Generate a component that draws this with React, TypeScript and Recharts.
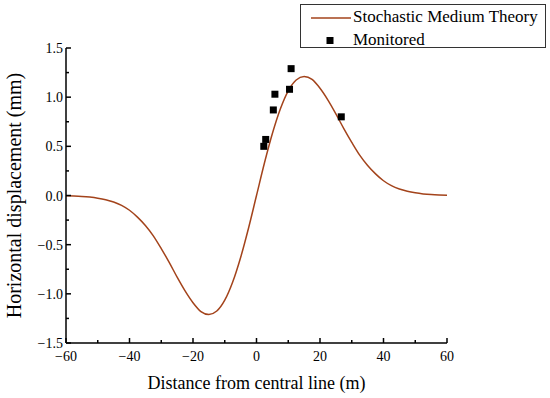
import React from 'react';
import { ComposedChart, Line, Scatter, XAxis, YAxis, Legend } from 'recharts';

const curveX = [-60, -57.5, -55, -52.5, -50, -47.5, -45, -42.5, -40, -37.5, -35, -32.5, -30, -27.5, -25, -22.5, -20, -17.5, -15, -12.5, -10, -7.5, -5, -2.5, 0, 2.5, 5, 7.5, 10, 12.5, 15, 17.5, 20, 22.5, 25, 27.5, 30, 32.5, 35, 37.5, 40, 42.5, 45, 47.5, 50, 52.5, 55, 57.5, 60];
const curveY = [-0.003, -0.005, -0.009, -0.016, -0.027, -0.043, -0.066, -0.1, -0.15, -0.22, -0.305, -0.41, -0.54, -0.68, -0.83, -0.97, -1.09, -1.18, -1.21, -1.175, -1.065, -0.88, -0.63, -0.33, 0, 0.33, 0.63, 0.88, 1.065, 1.175, 1.21, 1.18, 1.09, 0.97, 0.83, 0.68, 0.54, 0.41, 0.305, 0.22, 0.15, 0.1, 0.066, 0.043, 0.027, 0.016, 0.009, 0.005, 0.003];

const monitoredX = [2.3, 2.9, 5.3, 5.8, 10.4, 10.9, 26.7];
const monitoredY = [0.5, 0.57, 0.87, 1.03, 1.08, 1.29, 0.8];

const xTicks = [-60, -50, -40, -30, -20, -10, 0, 10, 20, 30, 40, 50, 60];
const yTicks = [-1.5, -1.25, -1, -0.75, -0.5, -0.25, 0, 0.25, 0.5, 0.75, 1, 1.25, 1.5];

const seriesNames = ['Stochastic Medium Theory', 'Monitored'];
const xTitle = 'Distance from central line (m)';
const yTitle = 'Horizontal displacement (mm)';

const curveData = curveX.map((x, i) => ({ x, y: curveY[i] }));
const monitoredData = monitoredX.map((x, i) => ({ x, y: monitoredY[i] }));

const FONT = '"Liberation Serif", "Times New Roman", serif';
const LINE_COLOR = '#A3431B';

const fmtX = (v: number) => (v < 0 ? '\u2212' + Math.abs(v) : String(v));
const fmtY = (v: number) => (v < 0 ? '\u2212' + Math.abs(v).toFixed(1) : v.toFixed(1));

const XTick = (props: any) => {
  const { x, y, payload } = props;
  const v = payload.value;
  const major = Math.abs(v % 20) < 1e-9;
  return (
    <g>
      <line x1={x} x2={x} y1={y} y2={y - (major ? 5 : 3)} stroke="#000" strokeWidth={1.5} />
      {major && (
        <text x={x} y={y + 18} textAnchor="middle" style={{ fontFamily: FONT }} fontSize={14} fill="#000">
          {fmtX(v)}
        </text>
      )}
    </g>
  );
};

const YTick = (props: any) => {
  const { x, y, payload } = props;
  const v = payload.value;
  const major = Math.abs((v * 2) % 1) < 1e-9;
  return (
    <g>
      <line x1={x} x2={x + (major ? 5 : 3)} y1={y} y2={y} stroke="#000" strokeWidth={1.5} />
      {major && (
        <text x={x - 3} y={y + 5} textAnchor="end" style={{ fontFamily: FONT }} fontSize={14} fill="#000">
          {fmtY(v)}
        </text>
      )}
    </g>
  );
};

const SquareShape = (props: any) => {
  const { cx, cy } = props;
  return <rect x={cx - 3.5} y={cy - 3.5} width={7} height={7} fill="#000" />;
};

const renderLegend = () => (
  <div
    style={{
      position: 'relative',
      width: 246,
      height: 44,
      border: '1px solid #333',
      background: '#fff',
      boxSizing: 'border-box',
      fontFamily: FONT,
      fontSize: 17,
      color: '#000',
    }}
  >
    <svg width={50} height={44} style={{ position: 'absolute', left: 0, top: 0 }}>
      <line x1={10} x2={50} y1={13} y2={13} stroke={LINE_COLOR} strokeWidth={1.5} />
      <rect x={25.5} y={32} width={7} height={7} fill="#000" />
    </svg>
    <div style={{ position: 'absolute', left: 52, top: 2, lineHeight: '20px', whiteSpace: 'nowrap' }}>{seriesNames[0]}</div>
    <div style={{ position: 'absolute', left: 52, top: 25, lineHeight: '20px', whiteSpace: 'nowrap' }}>{seriesNames[1]}</div>
  </div>
);

const XTitle = (props: any) => {
  const { viewBox } = props;
  const { x, y, width } = viewBox;
  return (
    <text x={x + width / 2} y={y + 46} textAnchor="middle" style={{ fontFamily: FONT }} fontSize={18} fill="#000">
      {xTitle}
    </text>
  );
};

const YTitle = (props: any) => {
  const { viewBox } = props;
  const { y, height } = viewBox;
  const cx = 21;
  const cy = y + height / 2;
  return (
    <text
      x={cx}
      y={cy}
      transform={`rotate(-90 ${cx} ${cy})`}
      textAnchor="middle"
      style={{ fontFamily: FONT }}
      fontSize={20}
      fill="#000"
    >
      {yTitle}
    </text>
  );
};

export default function App() {
  return (
    <div style={{ position: 'absolute', left: 0, top: 0, width: 550, height: 398, background: '#fff' }}>
      <ComposedChart width={550} height={398} margin={{ top: 48, right: 103, bottom: 0, left: 0 }}>
        <XAxis
          type="number"
          dataKey="x"
          domain={[-60, 60]}
          ticks={xTicks}
          interval={0}
          tick={<XTick />}
          tickLine={false}
          tickSize={0}
          tickMargin={0}
          axisLine={{ stroke: '#000', strokeWidth: 1.5 }}
          height={55}
          allowDataOverflow
          label={<XTitle />}
        />
        <YAxis
          type="number"
          dataKey="y"
          domain={[-1.5, 1.5]}
          ticks={yTicks}
          interval={0}
          tick={<YTick />}
          tickLine={false}
          tickSize={0}
          tickMargin={0}
          axisLine={{ stroke: '#000', strokeWidth: 1.5 }}
          width={66}
          allowDataOverflow
          label={<YTitle />}
        />
        <Legend
          layout="horizontal"
          verticalAlign="middle"
          align="center"
          content={renderLegend}
          wrapperStyle={{ position: 'absolute', left: 300, top: 4, width: 246, height: 44 }}
        />
        <Line
          data={curveData}
          dataKey="y"
          type="monotone"
          stroke={LINE_COLOR}
          strokeWidth={1.5}
          dot={false}
          activeDot={false}
          isAnimationActive={false}
          name={seriesNames[0]}
        />
        <Scatter
          data={monitoredData}
          dataKey="y"
          fill="#000"
          shape={<SquareShape />}
          isAnimationActive={false}
          name={seriesNames[1]}
        />
      </ComposedChart>
    </div>
  );
}
